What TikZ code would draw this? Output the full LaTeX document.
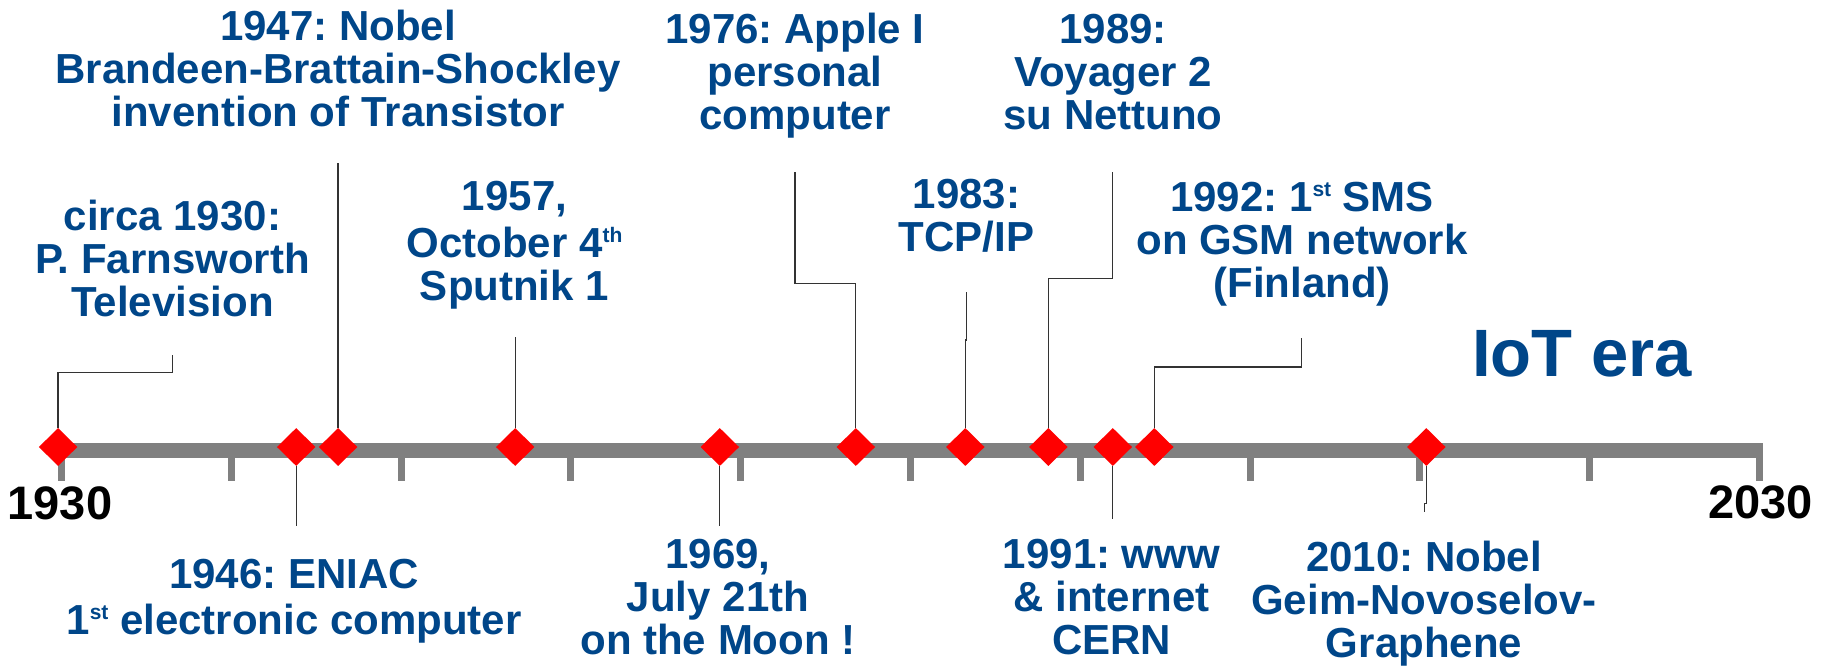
\documentclass[tikz,border=0pt]{standalone}
\usepackage{fontspec}
\setmainfont{Liberation Sans}
\usetikzlibrary{shapes.geometric}
\definecolor{blueT}{RGB}{0,70,137}
\definecolor{barG}{RGB}{128,128,128}
\definecolor{redD}{RGB}{255,0,0}
\frenchspacing
\newcommand{\mlines}[1]{\vtop{\halign{\hfil##\hfil\cr#1\crcr}}}
\newcommand{\sups}[1]{\raisebox{15.5pt}{\fontsize{21}{21}\selectfont #1}}
\tikzset{
 lbl/.style={anchor=base, inner sep=0pt, text=blueT, font=\fontsize{42}{43}\selectfont\bfseries},
 yr/.style={anchor=base, inner sep=0pt, text=black, font=\fontsize{47}{47}\selectfont\bfseries},
 bigl/.style={anchor=base, inner sep=0pt, text=blueT, font=\fontsize{67}{67}\selectfont\bfseries},
 diam/.style={diamond, fill=redD, draw=none, inner sep=0pt, minimum width=38.6pt, minimum height=38pt},
 conn/.style={draw=black!80, line width=1.3pt},
 barpart/.style={fill=barG},
}
\begin{document}
\begin{tikzpicture}[x=1pt,y=-1pt]
\useasboundingbox (0,0) rectangle (1826,667);
% axis bar and ticks
\fill[barpart] (58,443.3) rectangle (1763,457.7);
\foreach \k in {0,...,10} {
  \fill[barpart] ({61.5+169.8*\k-3.5},443.3) rectangle ++(7,37.5);
}
% diamonds
\node[diam] (d1930) at (58.1,447) {};
\node[diam] (d1946) at (296.2,447) {};
\node[diam] (d1947) at (338.1,447) {};
\node[diam] (d1957) at (515.2,447) {};
\node[diam] (d1969) at (719.8,447) {};
\node[diam] (d1976) at (855.8,447) {};
\node[diam] (d1983) at (965.3,447) {};
\node[diam] (d1989) at (1048.4,447) {};
\node[diam] (d1991) at (1112.8,447) {};
\node[diam] (d1992) at (1154.3,447) {};
\node[diam] (d2010) at (1426.3,447) {};
% connector coordinates
\coordinate (b1930) at (172.8,372.3);
\coordinate (e1930) at (172.8,355);
\coordinate (e1947) at (338.1,163);
\coordinate (e1957) at (515.2,337);
\coordinate (b1976) at (795,283.3);
\coordinate (e1976) at (795,171.7);
\coordinate (b1983a) at (965.3,340);
\coordinate (b1983b) at (966.5,340);
\coordinate (e1983) at (966.5,292.3);
\coordinate (b1989) at (1112.5,278.3);
\coordinate (e1989) at (1112.5,171.7);
\coordinate (b1992) at (1301.4,367);
\coordinate (e1992) at (1301.4,337.7);
\coordinate (e1946) at (296.2,526);
\coordinate (e1969) at (719.8,526);
\coordinate (e1991) at (1112.8,518.7);
\coordinate (b2010a) at (1426.3,503.3);
\coordinate (b2010b) at (1424.8,503.3);
\coordinate (e2010) at (1424.8,511.7);
% connectors
\draw[conn] (d1930.north) |- (b1930) -- (e1930);
\draw[conn] (d1947.north) -- (e1947);
\draw[conn] (d1957.north) -- (e1957);
\draw[conn] (d1976.north) |- (b1976) -- (e1976);
\draw[conn] (d1983.north) -- (b1983a) -- (b1983b) -- (e1983);
\draw[conn] (d1989.north) |- (b1989) -- (e1989);
\draw[conn] (d1992.north) |- (b1992) -- (e1992);
\draw[conn] (d1946.south) -- (e1946);
\draw[conn] (d1969.south) -- (e1969);
\draw[conn] (d1991.south) -- (e1991);
\draw[conn] (d2010.south) -- (b2010a) -- (b2010b) -- (e2010);
% labels above
\node[lbl] (t1930) at (172.5,230) {\mlines{circa 1930:\cr P. Farnsworth\cr Television}};
\node[lbl] (t1947) at (338,40) {\mlines{1947: Nobel\cr Brandeen-Brattain-Shockley\cr invention of Transistor}};
\node[lbl] (t1957) at (514.5,210.7) {\mlines{1957,\cr\noalign{\vskip4pt}October 4\sups{th}\cr Sputnik 1}};
\node[lbl] (t1976) at (795,43) {\mlines{1976: Apple I\cr personal\cr computer}};
\node[lbl] (t1983) at (966.5,208.3) {\mlines{1983:\cr TCP/IP}};
\node[lbl] (t1989) at (1113,43) {\mlines{1989:\cr Voyager 2\cr su Nettuno}};
\node[lbl] (t1992) at (1302,211.7) {\mlines{1992: 1\sups{st} SMS\cr on GSM network\cr (Finland)}};
\node[bigl] (tiot) at (1582,376.7) {IoT era};
% labels below
\node[lbl] (t1946) at (294,588.3) {\mlines{1946: ENIAC\cr\noalign{\vskip3.5pt}1\sups{st} electronic computer}};
\node[lbl] (t1969) at (718,568.3) {\mlines{1969,\cr July 21th\cr on the Moon !}};
\node[lbl] (t1991) at (1111.5,568.3) {\mlines{1991: www\cr \& internet\cr CERN}};
\node[lbl] (t2010) at (1424,571.7) {\mlines{2010: Nobel\cr Geim-Novoselov-\cr Graphene}};
% axis end years
\node[yr] (y1930) at (60,519) {1930};
\node[yr] (y2030) at (1760.5,518.5) {2030};
\end{tikzpicture}
\end{document}
